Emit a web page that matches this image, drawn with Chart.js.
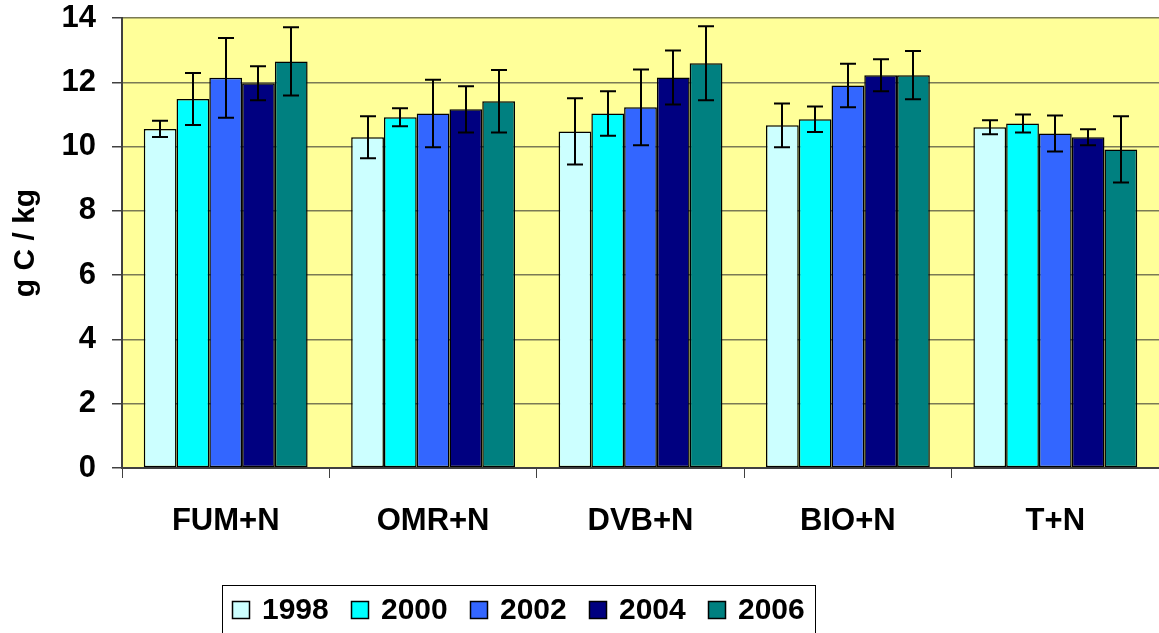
<!DOCTYPE html>
<html>
<head>
<meta charset="utf-8">
<script src="https://cdn.jsdelivr.net/npm/chart.js@4/dist/chart.umd.min.js"></script>
<style>
  html, body { margin: 0; padding: 0; background: #fff; }
  canvas { display: block; }
</style>
</head>
<body>
<canvas id="chart" width="1159" height="633"></canvas>
<script>
const categories = ["FUM+N", "OMR+N", "DVB+N", "BIO+N", "T+N"];
const years = ["1998", "2000", "2002", "2004", "2006"];
const colors = ["#CCFFFF", "#00FFFF", "#3366FF", "#000080", "#008080"];

// mean values per year
const v1998 = [10.55, 10.29, 10.47, 10.66, 10.60];
const v2000 = [11.48, 10.91, 11.03, 10.85, 10.72];
const v2002 = [12.14, 11.03, 11.22, 11.90, 10.41];
const v2004 = [11.97, 11.16, 12.15, 12.22, 10.29];
const v2006 = [12.65, 11.41, 12.59, 12.22, 9.91];

// error (+/-) per year
const e1998 = [0.25, 0.65, 1.03, 0.68, 0.22];
const e2000 = [0.81, 0.28, 0.69, 0.40, 0.28];
const e2002 = [1.24, 1.05, 1.18, 0.68, 0.56];
const e2004 = [0.53, 0.72, 0.84, 0.50, 0.25];
const e2006 = [1.06, 0.97, 1.15, 0.75, 1.03];

const values = [v1998, v2000, v2002, v2004, v2006];
const errors = [e1998, e2000, e2002, e2004, e2006];

const FONT = "'Liberation Sans', Arial, sans-serif";

// yellow plot background
const plotBg = {
  id: "plotBg",
  beforeDraw(chart) {
    const a = chart.chartArea;
    const ctx = chart.ctx;
    ctx.save();
    ctx.fillStyle = "#FFFF99";
    ctx.fillRect(a.left, a.top, a.right - a.left, a.bottom - a.top);
    ctx.restore();
  }
};

// error bars
const errorBars = {
  id: "errorBars",
  afterDatasetsDraw(chart) {
    const ctx = chart.ctx;
    const y = chart.scales.y;
    ctx.save();
    ctx.strokeStyle = "#000";
    ctx.lineWidth = 2;
    chart.data.datasets.forEach((ds, i) => {
      const meta = chart.getDatasetMeta(i);
      meta.data.forEach((bar, j) => {
        const v = ds.data[j], e = errors[i][j];
        const yt = y.getPixelForValue(v + e);
        const yb = y.getPixelForValue(v - e);
        const x = Math.round(bar.x);
        ctx.beginPath();
        ctx.moveTo(x, yt); ctx.lineTo(x, yb);
        ctx.moveTo(x - 8, yt); ctx.lineTo(x + 8, yt);
        ctx.moveTo(x - 8, yb); ctx.lineTo(x + 8, yb);
        ctx.stroke();
      });
    });
    ctx.restore();
  }
};

// boxed legend at the bottom
const boxLegend = {
  id: "boxLegend",
  afterDraw(chart) {
    const ctx = chart.ctx;
    ctx.save();
    ctx.strokeStyle = "#000";
    ctx.lineWidth = 1;
    ctx.strokeRect(222.5, 585.5, 593, 60);
    ctx.font = "bold 30px " + FONT;
    ctx.textBaseline = "middle";
    let x = 232;
    chart.data.datasets.forEach(ds => {
      ctx.fillStyle = ds.backgroundColor;
      ctx.fillRect(x, 601, 18, 18);
      ctx.lineWidth = 1.5;
      ctx.strokeRect(x + 0.5, 601.5, 17, 17);
      ctx.fillStyle = "#000";
      ctx.fillText(ds.label, x + 30, 611);
      x += 119;
    });
    ctx.restore();
  }
};

new Chart(document.getElementById("chart"), {
  type: "bar",
  data: {
    labels: categories,
    datasets: years.map((yr, i) => ({
      label: yr,
      data: values[i],
      backgroundColor: colors[i],
      borderColor: "#000",
      borderWidth: 1.5,
      borderSkipped: false,
      barPercentage: 1,
      categoryPercentage: 0.79
    }))
  },
  options: {
    responsive: false,
    animation: false,
    layout: { padding: { top: 18, left: 0, right: 0, bottom: 0 } },
    plugins: {
      legend: { display: false },
      tooltip: { enabled: false }
    },
    scales: {
      x: {
        afterFit(s) { s.height = 165; },
        grid: {
          offset: true,
          drawOnChartArea: false,
          tickLength: 10,
          color: "#404040",
          lineWidth: 1
        },
        border: { color: "#404040", width: 2 },
        ticks: {
          padding: 25,
          color: "#000",
          font: { family: FONT, size: 31, weight: "bold" }
        }
      },
      y: {
        min: 0,
        max: 14,
        afterFit(s) {
          s.width = 122;
          s.paddingTop = 0;
          s.paddingBottom = 0;
        },
        grid: {
          color: "#7a7a55",
          lineWidth: 1.5,
          tickColor: "#404040",
          tickLength: 10
        },
        border: { color: "#404040", width: 2 },
        ticks: {
          stepSize: 2,
          padding: 16,
          color: "#000",
          font: { family: FONT, size: 31, weight: "bold" }
        },
        title: {
          display: true,
          text: "g C / kg",
          color: "#000",
          padding: { top: 8, bottom: 0 },
          font: { family: FONT, size: 30, weight: "bold" }
        }
      }
    }
  },
  plugins: [plotBg, errorBars, boxLegend]
});
</script>
</body>
</html>
